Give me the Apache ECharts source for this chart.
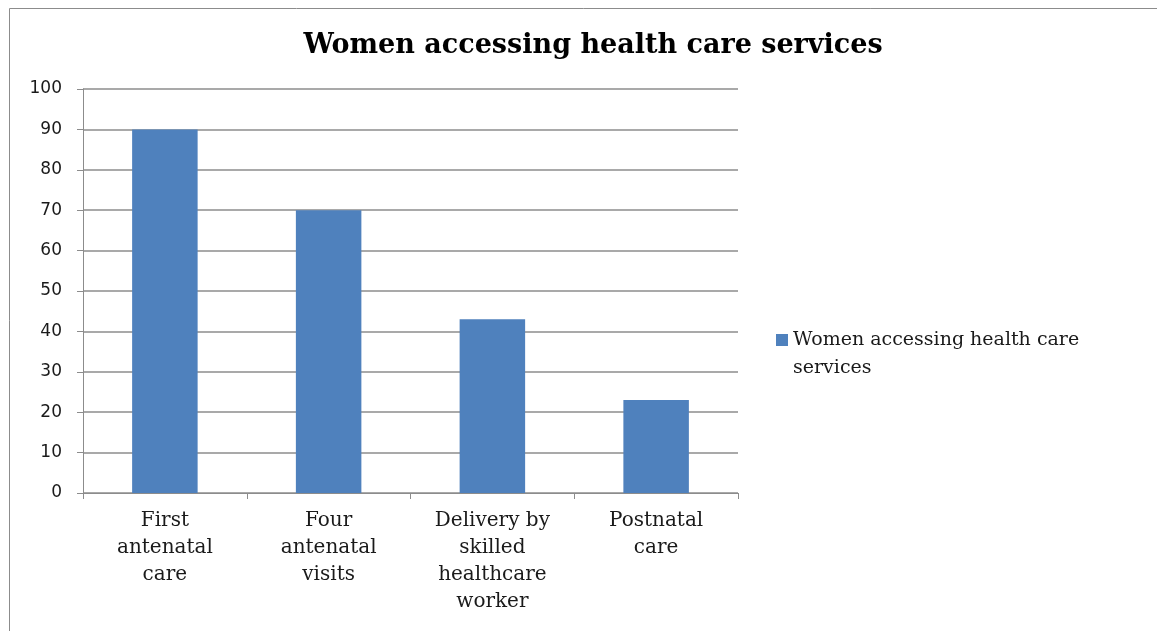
<!DOCTYPE html>
<html>
<head>
<meta charset="utf-8">
<script src="https://cdn.jsdelivr.net/npm/echarts@6/dist/echarts.min.js"></script>
<style>
  html, body { margin: 0; padding: 0; background: #fff; }
  #chart { width: 1157px; height: 631px; }
</style>
</head>
<body>
<div id="chart"></div>
<script>
// data
const categories = [
  'First\nantenatal\ncare',
  'Four\nantenatal\nvisits',
  'Delivery by\nskilled\nhealthcare\nworker',
  'Postnatal\ncare'
];
const values = [90, 70, 43, 23];
const seriesName = 'Women accessing health care services';
const titleText = 'Women accessing health care services';

const chart = echarts.init(document.getElementById('chart'));

let option = {
  animation: false,
  backgroundColor: '#fff',
  // outer frame of the chart box
  graphic: [{
    type: 'rect',
    shape: { x: 9.5, y: 8.5, width: 1160, height: 640 },
    style: { fill: 'none', stroke: '#8c8c8c', lineWidth: 1 },
    silent: true
  }],
  title: {
    text: titleText,
    left: 588,
    textAlign: 'center',
    top: 27,
    textStyle: {
      fontFamily: 'DejaVu Serif',
      fontWeight: 'bold',
      fontSize: 27,
      color: '#000'
    }
  },
  legend: {
    left: 771,
    top: 293,
    orient: 'vertical',
    itemWidth: 12,
    itemHeight: 12,
    icon: 'rect',
    // empty first line keeps the marker level with the first text line
    formatter: function () {
      return ' \nWomen accessing health care\nservices';
    },
    textStyle: {
      fontFamily: 'DejaVu Serif',
      fontSize: 19,
      lineHeight: 28,
      color: '#1a1a1a'
    },
    data: [seriesName]
  },
  grid: {
    left: 83,
    right: 419,
    top: 89,
    bottom: 138
  },
  xAxis: {
    type: 'category',
    data: categories,
    axisLine: { lineStyle: { color: '#8c8c8c', width: 1 } },
    axisTick: { show: true, length: 6, lineStyle: { color: '#8c8c8c' } },
    axisLabel: {
      fontFamily: 'DejaVu Serif',
      fontSize: 20,
      lineHeight: 27,
      color: '#1a1a1a',
      margin: 14,
      interval: 0
    }
  },
  yAxis: {
    type: 'value',
    min: 0,
    max: 100,
    interval: 10,
    axisLine: { show: true, lineStyle: { color: '#8c8c8c', width: 1 } },
    axisTick: { show: true, length: 6, lineStyle: { color: '#8c8c8c' } },
    splitLine: { show: true, lineStyle: { color: '#8c8c8c', width: 1.5 } },
    axisLabel: {
      fontFamily: 'DejaVu Sans',
      fontSize: 17,
      color: '#1a1a1a',
      margin: 21
    }
  },
  series: [{
    name: seriesName,
    type: 'bar',
    data: values,
    barCategoryGap: '60%',
    itemStyle: { color: '#4f81bd' }
  }]
};

chart.setOption(option);
</script>
</body>
</html>
